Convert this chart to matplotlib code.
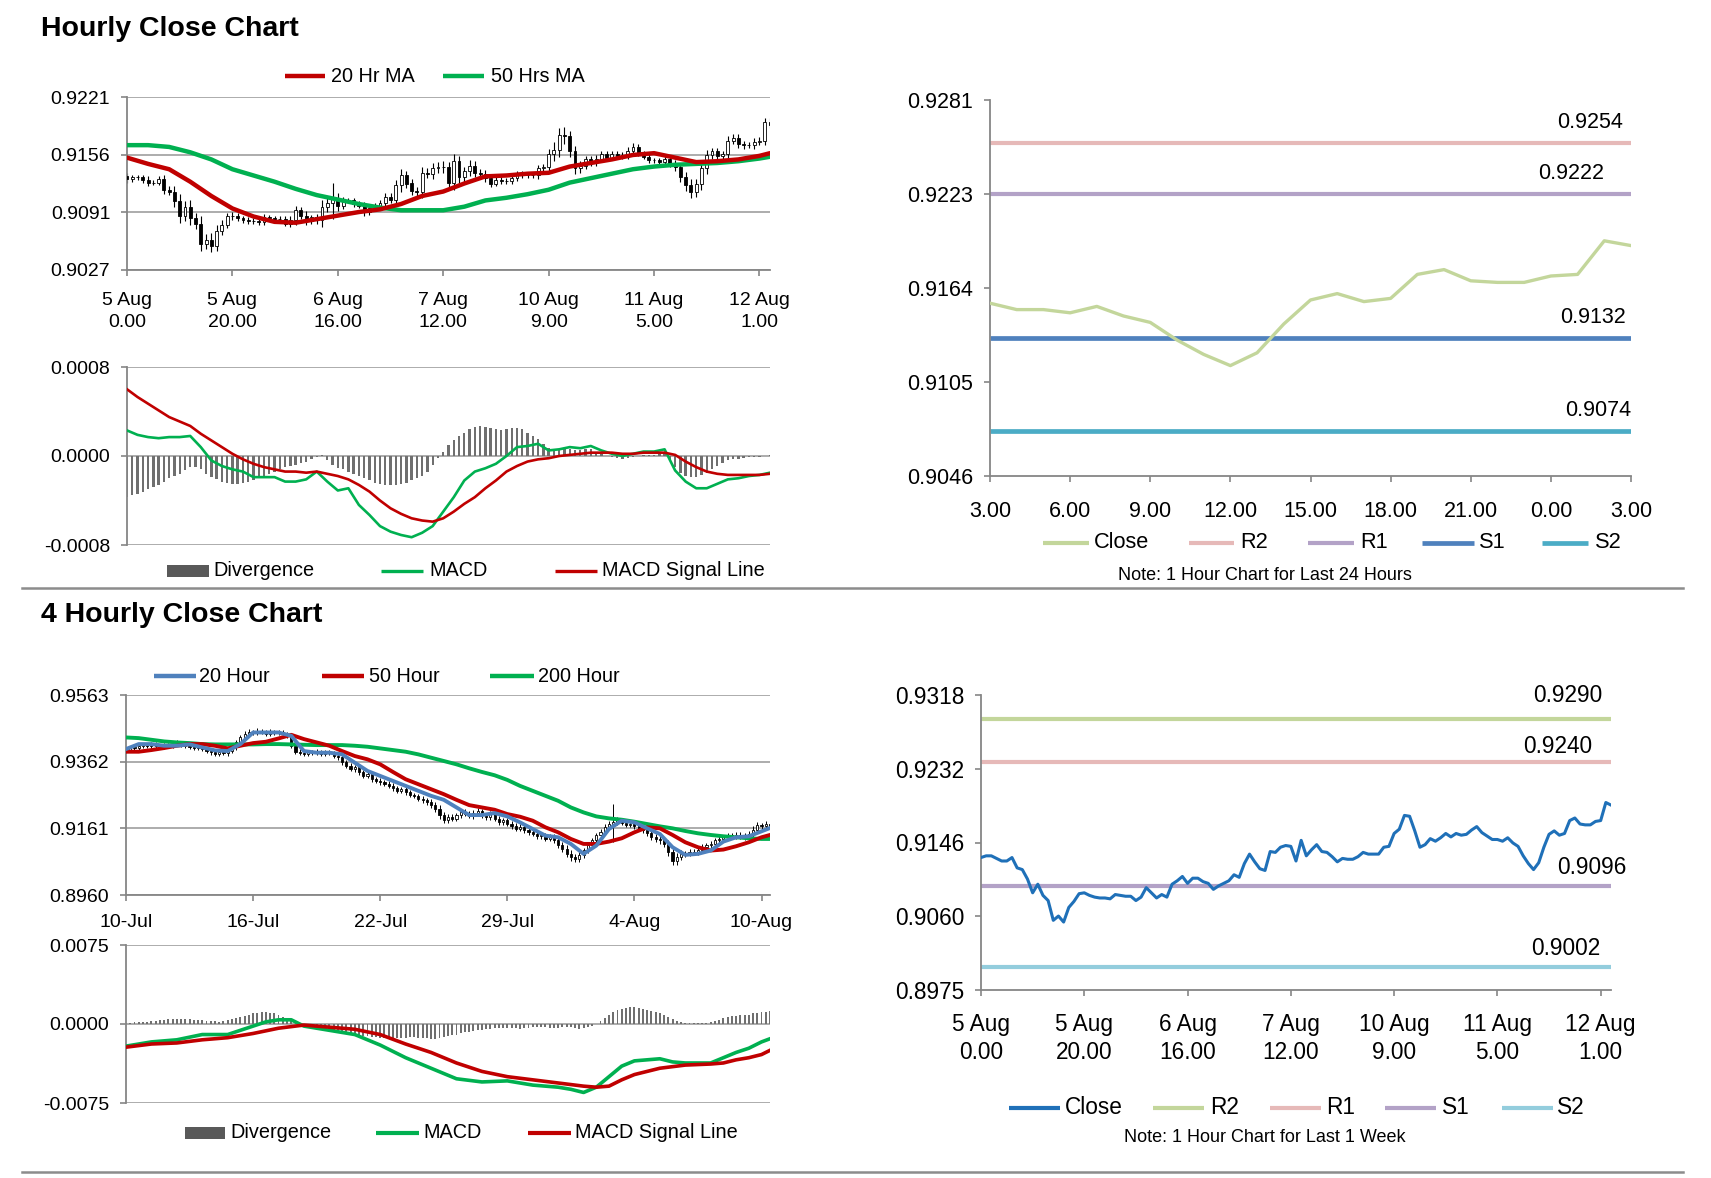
import numpy as np
import matplotlib
matplotlib.use('Agg')
import matplotlib.pyplot as plt
from matplotlib.lines import Line2D
from matplotlib.patches import Rectangle

plt.rcParams['font.family'] = ['Liberation Sans', 'DejaVu Sans']

# ---------------- DATA ----------------
# Hourly closes, 5 Aug 0.00 -> 12 Aug 3.00 (123 hourly bars)
close_1h = [
    0.9129, 0.9131, 0.9131, 0.9128, 0.9125, 0.9125, 0.9129, 0.9117, 0.9115, 0.9104,
    0.9088, 0.9098, 0.9085, 0.9079, 0.9056, 0.9061, 0.9054, 0.9071, 0.9078, 0.9087,
    0.9088, 0.9085, 0.9083, 0.9082, 0.9082, 0.9081, 0.9086, 0.9085, 0.9084, 0.9084,
    0.9079, 0.9083, 0.9094, 0.9088, 0.9082, 0.9086, 0.9083, 0.9098, 0.9102, 0.9107,
    0.9099, 0.9105, 0.9105, 0.9101, 0.9099, 0.9092, 0.9096, 0.9099, 0.9102, 0.9109,
    0.9106, 0.9122, 0.9133, 0.9124, 0.9116, 0.9114, 0.9136, 0.9135, 0.9141, 0.9143,
    0.9142, 0.9125, 0.9149, 0.9131, 0.9138, 0.9144, 0.9136, 0.9135, 0.9130, 0.9124,
    0.9128, 0.9127, 0.9127, 0.9130, 0.9135, 0.9133, 0.9133, 0.9133, 0.9141, 0.9142,
    0.9157, 0.9162, 0.9178, 0.9177, 0.9160, 0.9141, 0.9144, 0.9151, 0.9148, 0.9152,
    0.9157, 0.9153, 0.9157, 0.9155, 0.9156, 0.9161, 0.9165, 0.9158,
    0.9154, 0.9150, 0.9150, 0.9148, 0.9152, 0.9146, 0.9142, 0.9131, 0.9122, 0.9115,
    0.9123, 0.9141, 0.9156, 0.9160, 0.9155, 0.9157, 0.9172, 0.9175, 0.9168, 0.9167,
    0.9167, 0.9171, 0.9172, 0.9193, 0.9190]
first_open_1h = 0.9132
wick_1h_pips = [
    4, 3, 3, 3, 4, 3, 3, 5, 4, 6,
    8, 6, 7, 6, 8, 6, 7, 6, 5, 4,
    4, 3, 3, 3, 3, 3, 4, 3, 3, 3,
    3, 4, 5, 4, 5, 3, 4, 8, 6, 18,
    6, 4, 3, 3, 3, 4, 3, 3, 3, 4,
    4, 6, 7, 5, 5, 4, 6, 5, 6, 5,
    6, 6, 8, 6, 5, 6, 5, 4, 4, 4,
    3, 3, 3, 3, 3, 3, 3, 3, 4, 4,
    6, 8, 8, 9, 6, 6, 5, 4, 4, 4,
    4, 3, 3, 3, 3, 4, 4, 3, 3, 3,
    3, 3, 3, 3, 4, 5, 6, 7, 6, 6,
    6, 4, 4, 4, 5, 4, 4, 4, 3, 4,
    4, 5, 4]
tick_labels_1h = ['5 Aug\n0.00', '5 Aug\n20.00', '6 Aug\n16.00', '7 Aug\n12.00',
                  '10 Aug\n9.00', '11 Aug\n5.00', '12 Aug\n1.00']

# Hourly moving averages (sampled every 4 bars)
ma_idx_1h = list(range(0, 121, 4)) + [122]
ma20_1h = [0.9153, 0.9146, 0.9140, 0.9126, 0.9110, 0.9096, 0.9087, 0.9081, 0.9080, 0.9084,
           0.9088, 0.9092, 0.9095, 0.9101, 0.9110, 0.9115, 0.9124, 0.9132, 0.9133, 0.9135,
           0.9136, 0.9143, 0.9147, 0.9151, 0.9156, 0.9158, 0.9153, 0.9148, 0.9149, 0.9151,
           0.9155, 0.9158]
ma50_1h = [0.9167, 0.9167, 0.9165, 0.9159, 0.9151, 0.9140, 0.9133, 0.9126, 0.9118, 0.9111,
           0.9106, 0.9101, 0.9097, 0.9094, 0.9094, 0.9094, 0.9098, 0.9105, 0.9108, 0.9112,
           0.9117, 0.9125, 0.9130, 0.9135, 0.9140, 0.9143, 0.9145, 0.9146, 0.9147, 0.9149,
           0.9152, 0.9154]

# Hourly MACD (sampled every 2 bars) and divergence (every bar)
macd_idx_1h = list(range(0, 123, 2))
macd_1h = [0.00023, 0.00019, 0.00017, 0.00016, 0.00017, 0.00017, 0.00018, 0.00008, -0.00004, -0.00009,
           -0.00012, -0.00014, -0.00019, -0.00019, -0.00019, -0.00023, -0.00023, -0.00021, -0.00014, -0.00023,
           -0.00031, -0.00029, -0.00044, -0.00053, -0.00063, -0.00068, -0.00071, -0.00073, -0.00069, -0.00063,
           -0.00050, -0.00037, -0.00022, -0.00014, -0.00011, -0.00007, 0.00000, 0.00008, 0.00009, 0.00011,
           0.00005, 0.00006, 0.00008, 0.00007, 0.00009, 0.00005, 0.00002, 0.00000, 0.00002, 0.00004,
           0.00004, 0.00006, -0.00013, -0.00023, -0.00029, -0.00029, -0.00025, -0.00021, -0.00020, -0.00018,
           -0.00017, -0.00015]
signal_1h = [0.00060, 0.00053, 0.00047, 0.00041, 0.00035, 0.00031, 0.00027, 0.00020, 0.00014, 0.00008,
             0.00002, -0.00003, -0.00007, -0.00010, -0.00012, -0.00014, -0.00014, -0.00015, -0.00014, -0.00016,
             -0.00018, -0.00021, -0.00026, -0.00032, -0.00040, -0.00047, -0.00052, -0.00056, -0.00058, -0.00059,
             -0.00056, -0.00050, -0.00043, -0.00037, -0.00029, -0.00022, -0.00014, -0.00009, -0.00005, -0.00003,
             -0.00002, 0.00000, 0.00001, 0.00002, 0.00003, 0.00003, 0.00003, 0.00002, 0.00002, 0.00003,
             0.00003, 0.00003, 0.00001, -0.00005, -0.00010, -0.00014, -0.00016, -0.00017, -0.00017, -0.00017,
             -0.00017, -0.00016]
div_1h = [
    -0.00037, -0.00035, -0.00034, -0.00032, -0.00030, -0.00028, -0.00026, -0.00023, -0.00020, -0.00018,
    -0.00016, -0.00013, -0.00010, -0.00010, -0.00012, -0.00016, -0.00019, -0.00021, -0.00023, -0.00024,
    -0.00025, -0.00025, -0.00024, -0.00023, -0.00022, -0.00020, -0.00018, -0.00016, -0.00014, -0.00012,
    -0.00010, -0.00009, -0.00008, -0.00006, -0.00005, -0.00003, -0.00001, 0.00001, -0.00004, -0.00008,
    -0.00011, -0.00012, -0.00014, -0.00016, -0.00018, -0.00020, -0.00022, -0.00024, -0.00025, -0.00026,
    -0.00026, -0.00026, -0.00025, -0.00024, -0.00022, -0.00020, -0.00018, -0.00014, -0.00008, -0.00002,
    0.00004, 0.00010, 0.00014, 0.00018, 0.00021, 0.00024, 0.00026, 0.00027, 0.00026, 0.00025,
    0.00024, 0.00023, 0.00024, 0.00025, 0.00025, 0.00024, 0.00021, 0.00018, 0.00015, 0.00011,
    0.00007, 0.00006, 0.00005, 0.00006, 0.00006, 0.00005, 0.00005, 0.00006, 0.00006, 0.00004,
    0.00002, 0.00000, -0.00001, -0.00002, -0.00003, -0.00002, -0.00001, 0.00000, 0.00001, 0.00001,
    0.00001, 0.00002, 0.00003, -0.00004, -0.00010, -0.00015, -0.00018, -0.00019, -0.00019, -0.00017,
    -0.00015, -0.00012, -0.00009, -0.00006, -0.00004, -0.00003, -0.00003, -0.00002, -0.00001, -0.00001,
    -0.00001, 0.00000, 0.00001]

# 4-hourly closes, 10 Jul -> 10 Aug (153 bars)
close_4h = [
    0.9398, 0.9405, 0.9402, 0.9410, 0.9412, 0.9408, 0.9415, 0.9410, 0.9406, 0.9412,
    0.9408, 0.9415, 0.9420, 0.9412, 0.9408, 0.9405, 0.9402, 0.9406, 0.9400, 0.9395,
    0.9390, 0.9385, 0.9392, 0.9388, 0.9395, 0.9405, 0.9420, 0.9435, 0.9445, 0.9452,
    0.9448, 0.9455, 0.9450, 0.9445, 0.9452, 0.9448, 0.9450, 0.9445, 0.9440, 0.9410,
    0.9392, 0.9388, 0.9385, 0.9390, 0.9388, 0.9392, 0.9385, 0.9390, 0.9388, 0.9380,
    0.9375, 0.9360, 0.9350, 0.9340, 0.9345, 0.9330, 0.9320, 0.9325, 0.9310, 0.9305,
    0.9300, 0.9295, 0.9290, 0.9282, 0.9275, 0.9280, 0.9270, 0.9262, 0.9258, 0.9250,
    0.9245, 0.9240, 0.9230, 0.9220, 0.9200, 0.9185, 0.9195, 0.9190, 0.9200, 0.9210,
    0.9205, 0.9198, 0.9208, 0.9212, 0.9200, 0.9195, 0.9205, 0.9190, 0.9180, 0.9185,
    0.9175, 0.9168, 0.9160, 0.9165, 0.9155, 0.9150, 0.9145, 0.9138, 0.9140, 0.9130,
    0.9135, 0.9125, 0.9110, 0.9100, 0.9085, 0.9075, 0.9068, 0.9080, 0.9095, 0.9110,
    0.9125, 0.9140, 0.9150, 0.9165, 0.9175, 0.9180, 0.9185, 0.9178, 0.9172, 0.9175,
    0.9168, 0.9160, 0.9155, 0.9148, 0.9135, 0.9130, 0.9125, 0.9115, 0.9090, 0.9062,
    0.9075, 0.9085, 0.9085, 0.9090, 0.9088, 0.9095, 0.9105, 0.9110, 0.9115, 0.9125,
    0.9130, 0.9135, 0.9140, 0.9138, 0.9142, 0.9135, 0.9140, 0.9145, 0.9155, 0.9170,
    0.9168, 0.9175, 0.9165]
first_open_4h = 0.9395
wick_4h_pips = [
    6, 5, 6, 5, 6, 5, 6, 6, 5, 6,
    6, 5, 6, 5, 6, 5, 6, 6, 7, 6,
    7, 6, 6, 7, 8, 7, 8, 6, 8, 7,
    6, 7, 6, 6, 7, 6, 6, 6, 7, 8,
    8, 7, 6, 6, 6, 7, 6, 6, 6, 7,
    7, 8, 8, 7, 8, 7, 8, 7, 8, 7,
    8, 7, 8, 7, 8, 7, 8, 8, 7, 8,
    8, 8, 9, 9, 10, 9, 8, 8, 8, 7,
    8, 7, 8, 9, 8, 8, 8, 7, 8, 8,
    8, 8, 8, 8, 9, 8, 8, 8, 9, 8,
    8, 9, 9, 10, 10, 11, 10, 9, 8, 8,
    8, 8, 9, 8, 9, 55, 9, 8, 8, 8,
    8, 8, 8, 9, 9, 9, 10, 10, 12, 13,
    12, 10, 9, 8, 8, 8, 8, 7, 8, 8,
    8, 7, 8, 8, 8, 7, 8, 8, 14, 9,
    8, 8, 8]
tick_labels_4h = ['10-Jul', '16-Jul', '22-Jul', '29-Jul', '4-Aug', '10-Aug']

ma_idx_4h = list(range(0, 151, 3)) + [152]
ma20_4h = [0.9400, 0.9415, 0.9415, 0.9410, 0.9410, 0.9414, 0.9405, 0.9396, 0.9394, 0.9415,
           0.9450, 0.9450, 0.9450, 0.9440, 0.9394, 0.9389, 0.9389, 0.9384, 0.9359, 0.9334,
           0.9319, 0.9304, 0.9289, 0.9274, 0.9259, 0.9247, 0.9224, 0.9201, 0.9201, 0.9207,
           0.9197, 0.9179, 0.9159, 0.9139, 0.9134, 0.9114, 0.9084, 0.9109, 0.9159, 0.9184,
           0.9179, 0.9161, 0.9144, 0.9104, 0.9081, 0.9084, 0.9094, 0.9121, 0.9134, 0.9137,
           0.9152, 0.9162]
ma50_4h = [0.9392, 0.9392, 0.9397, 0.9403, 0.9410, 0.9415, 0.9415, 0.9410, 0.9402, 0.9410,
           0.9418, 0.9422, 0.9432, 0.9443, 0.9430, 0.9420, 0.9410, 0.9394, 0.9379, 0.9369,
           0.9354, 0.9331, 0.9309, 0.9294, 0.9279, 0.9264, 0.9247, 0.9231, 0.9224, 0.9217,
           0.9204, 0.9196, 0.9184, 0.9164, 0.9149, 0.9129, 0.9114, 0.9114, 0.9121, 0.9131,
           0.9149, 0.9164, 0.9161, 0.9141, 0.9119, 0.9104, 0.9094, 0.9097, 0.9107, 0.9119,
           0.9134, 0.9141]
ma200_4h = [0.9435, 0.9433, 0.9428, 0.9423, 0.9420, 0.9418, 0.9415, 0.9414, 0.9414, 0.9414,
            0.9414, 0.9415, 0.9415, 0.9414, 0.9413, 0.9412, 0.9412, 0.9412, 0.9410, 0.9407,
            0.9402, 0.9397, 0.9392, 0.9384, 0.9374, 0.9364, 0.9354, 0.9342, 0.9331, 0.9321,
            0.9307, 0.9289, 0.9274, 0.9259, 0.9244, 0.9224, 0.9209, 0.9197, 0.9191, 0.9187,
            0.9181, 0.9174, 0.9167, 0.9161, 0.9153, 0.9146, 0.9141, 0.9137, 0.9134, 0.9131,
            0.9129, 0.9129]

macd_idx_4h = [0, 6, 12, 18, 24, 27, 30, 33, 36, 39, 42, 48, 54, 60, 66, 72, 78, 84, 90, 96,
               102, 105, 108, 111, 114, 117, 120, 126, 129, 132, 138, 141, 144, 147, 150, 152]
macd_4h = [-0.0021, -0.0017, -0.0015, -0.0010, -0.0010, -0.0006, -0.0002, 0.0002, 0.0004, 0.0004,
           -0.0002, -0.0006, -0.0010, -0.0020, -0.0032, -0.0042, -0.0052, -0.0055, -0.0054, -0.0058,
           -0.0060, -0.0062, -0.0065, -0.0060, -0.0050, -0.0040, -0.0035, -0.0033, -0.0036, -0.0037,
           -0.0037, -0.0032, -0.0027, -0.0023, -0.0017, -0.0014]
signal_idx_4h = [0, 6, 12, 18, 24, 30, 36, 42, 48, 54, 60, 66, 72, 78, 84, 90, 96, 102, 108, 111,
                 114, 117, 120, 126, 132, 138, 141, 144, 147, 150, 152]
signal_4h = [-0.0022, -0.0019, -0.0018, -0.0015, -0.0013, -0.0009, -0.0004, -0.0001, -0.0003, -0.0005,
             -0.0010, -0.0019, -0.0027, -0.0037, -0.0045, -0.0050, -0.0053, -0.0056, -0.0059, -0.0060,
             -0.0059, -0.0053, -0.0048, -0.0042, -0.0039, -0.0038, -0.0037, -0.0034, -0.0032, -0.0029,
             -0.0025]
div_4h = [
    0.0001, 0.0001, 0.0002, 0.0002, 0.0002, 0.0002, 0.0003,
    0.0003, 0.0004, 0.0004, 0.0005, 0.0005, 0.0005, 0.0005,
    0.0005, 0.0005, 0.0004, 0.0004, 0.0004, 0.0003, 0.0003,
    0.0003, 0.0002, 0.0003, 0.0004, 0.0005, 0.0006, 0.0007,
    0.0008, 0.0009, 0.0010, 0.0010, 0.0011, 0.0011, 0.0010,
    0.0010, 0.0009, 0.0007, 0.0005, 0.0003, 0.0001, -0.0001,
    -0.0002, -0.0003, -0.0003, -0.0004, -0.0004, -0.0005, -0.0006,
    -0.0006, -0.0007, -0.0008, -0.0008, -0.0009, -0.0010, -0.0010,
    -0.0011, -0.0011, -0.0012, -0.0012, -0.0013, -0.0013, -0.0013,
    -0.0013, -0.0013, -0.0013, -0.0013, -0.0012, -0.0012, -0.0013,
    -0.0013, -0.0013, -0.0014, -0.0014, -0.0013, -0.0012, -0.0011,
    -0.0010, -0.0010, -0.0009, -0.0008, -0.0008, -0.0007, -0.0006,
    -0.0006, -0.0005, -0.0005, -0.0004, -0.0004, -0.0004, -0.0004,
    -0.0004, -0.0004, -0.0005, -0.0004, -0.0004, -0.0003, -0.0003,
    -0.0003, -0.0003, -0.0004, -0.0004, -0.0004, -0.0003, -0.0003,
    -0.0003, -0.0004, -0.0005, -0.0004, -0.0003, -0.0002, 0.0000,
    0.0003, 0.0006, 0.0009, 0.0011, 0.0013, 0.0014, 0.0015,
    0.0016, 0.0016, 0.0015, 0.0014, 0.0013, 0.0012, 0.0011,
    0.0010, 0.0009, 0.0007, 0.0005, 0.0003, 0.0002, 0.0001,
    0.0001, 0.0001, 0.0001, 0.0001, 0.0001, 0.0002, 0.0003,
    0.0004, 0.0006, 0.0007, 0.0008, 0.0008, 0.0009, 0.0009,
    0.0009, 0.0010, 0.0010, 0.0011, 0.0011, 0.0012]

# Pivot levels
levels_24h = {'R2': 0.9254, 'R1': 0.9222, 'S1': 0.9132, 'S2': 0.9074}
levels_week = {'R2': 0.9290, 'R1': 0.9240, 'S1': 0.9096, 'S2': 0.9002}
tick_labels_24h = ['3.00', '6.00', '9.00', '12.00', '15.00', '18.00', '21.00', '0.00', '3.00']

ylim_1h = (0.9027, 0.9221); yticklabels_1h = ['0.9027', '0.9091', '0.9156', '0.9221']
ylim_macd1h = (-0.0008, 0.0008); yticklabels_macd1h = ['-0.0008', '0.0000', '0.0008']
ylim_4h = (0.8960, 0.9563); yticklabels_4h = ['0.8960', '0.9161', '0.9362', '0.9563']
ylim_macd4h = (-0.0075, 0.0075); yticklabels_macd4h = ['-0.0075', '0.0000', '0.0075']
ylim_24h = (0.9046, 0.9281); yticklabels_24h = ['0.9046', '0.9105', '0.9164', '0.9223', '0.9281']
ylim_week = (0.8975, 0.9318); yticklabels_week = ['0.8975', '0.9060', '0.9146', '0.9232', '0.9318']

# ---------------- FIGURE ----------------
W, H = 1711, 1178
fig = plt.figure(figsize=(W / 100, H / 100), dpi=100)
fig.patch.set_facecolor('white')

AXC = '#868686'
GRIDC = '#A6A6A6'
RED = '#C00000'
GREEN = '#00B050'
BLUE20 = '#4F81BD'
DIVC = '#6F6F6F'


def fx(x):
    return x / W


def fy(y):
    return 1 - y / H


def px_axes(l, t, r, b):
    return fig.add_axes([l / W, 1 - b / H, (r - l) / W, (b - t) / H])


def style(ax, fs, grid=True, xpad=8, ypad=8):
    for s in ['top', 'right']:
        ax.spines[s].set_visible(False)
    for s in ['left', 'bottom']:
        ax.spines[s].set_color(AXC)
        ax.spines[s].set_linewidth(1.3)
    ax.tick_params(axis='both', colors=AXC, labelcolor='black', labelsize=fs,
                   length=4, width=1.2, direction='out')
    ax.tick_params(axis='x', pad=xpad)
    ax.tick_params(axis='y', pad=ypad)
    if grid:
        ax.yaxis.grid(True, color=GRIDC, lw=1.3)
        ax.set_axisbelow(True)
    ax.set_facecolor('none')


def set_y(ax, lim, labels):
    ax.set_ylim(*lim)
    ax.set_yticks(np.linspace(lim[0], lim[1], len(labels)))
    ax.set_yticklabels(labels)


def candles(ax, close, first_open, wick_pips, width, lw=0.8):
    c = np.asarray(close)
    o = np.r_[first_open, c[:-1]]
    w = np.asarray(wick_pips) * 0.0001
    hi = np.maximum(o, c) + w
    lo = np.minimum(o, c) - w
    x = np.arange(len(c))
    ax.vlines(x, lo, hi, color='black', lw=lw, zorder=2)
    up = c >= o
    ax.bar(x[up], (c - o)[up], bottom=o[up], width=width, facecolor='white',
           edgecolor='black', lw=0.6, zorder=3)
    ax.bar(x[~up], (o - c)[~up], bottom=c[~up], width=width, facecolor='black',
           edgecolor='black', lw=0.6, zorder=3)


def leg_line(x0, x1, tx, y, color, lw, label, fs):
    fig.add_artist(Line2D([fx(x0), fx(x1)], [fy(y), fy(y)], color=color, lw=lw,
                          transform=fig.transFigure, solid_capstyle='butt'))
    fig.text(fx(tx), fy(y), label, ha='left', va='center', fontsize=fs)


def leg_rect(x0, x1, tx, y, color, label, fs):
    fig.add_artist(Rectangle((fx(x0), fy(y + 6)), (x1 - x0) / W, 12 / H, facecolor=color,
                             edgecolor='none', transform=fig.transFigure))
    fig.text(fx(tx), fy(y), label, ha='left', va='center', fontsize=fs)


FS = 14
LEGFS = 14.3

# ---- Titles and separators ----
fig.text(fx(41), fy(29), 'Hourly Close Chart', fontsize=20.5, fontweight='bold', ha='left', va='center')
fig.text(fx(41), fy(615), '4 Hourly Close Chart', fontsize=20.5, fontweight='bold', ha='left', va='center')
for ysep in (588, 1172):
    fig.add_artist(Line2D([fx(22), fx(1683)], [fy(ysep), fy(ysep)], color='#8C8C8C', lw=1.8,
                          transform=fig.transFigure))

# ---- Panel A: hourly candles + MAs ----
axA = px_axes(127, 97, 770, 270)
style(axA, FS, xpad=11.5)
n1 = len(close_1h)
candles(axA, close_1h, first_open_1h, wick_1h_pips, 0.55)
axA.plot(ma_idx_1h, ma50_1h, color=GREEN, lw=3.2, zorder=4, solid_capstyle='round')
axA.plot(ma_idx_1h, ma20_1h, color=RED, lw=3.2, zorder=5, solid_capstyle='round')
axA.set_xlim(0, n1 - 1)
set_y(axA, ylim_1h, yticklabels_1h)
axA.set_xticks(range(0, n1, 20))
axA.set_xticklabels(tick_labels_1h, linespacing=1.45)
leg_line(285, 325, 331, 76, RED, 3.2, '20 Hr MA', LEGFS)
leg_line(443, 484, 491, 76, GREEN, 3.2, '50 Hrs MA', LEGFS)

# ---- Panel B: hourly MACD ----
axB = px_axes(127, 367, 770, 545)
style(axB, FS)
axB.bar(range(len(div_1h)), div_1h, width=0.45, color=DIVC, zorder=2)
axB.plot(macd_idx_1h, macd_1h, color=GREEN, lw=1.9, zorder=3)
axB.plot(macd_idx_1h, signal_1h, color=RED, lw=1.9, zorder=4)
axB.set_xlim(0, n1 - 1)
set_y(axB, ylim_macd1h, yticklabels_macd1h)
axB.set_xticks([])
axB.spines['bottom'].set_visible(False)
leg_rect(167, 209, 213, 571, '#595959', 'Divergence', LEGFS)
leg_line(381, 423, 429, 571, GREEN, 2.4, 'MACD', LEGFS)
leg_line(555, 597, 602, 571, RED, 2.4, 'MACD Signal Line', LEGFS)

# ---- Panel D: 4-hourly candles + MAs ----
axD = px_axes(126, 695, 770, 895)
style(axD, FS, xpad=10)
n4 = len(close_4h)
candles(axD, close_4h, first_open_4h, wick_4h_pips, 0.5, lw=0.7)
axD.plot(ma_idx_4h, ma200_4h, color=GREEN, lw=2.8, zorder=4)
axD.plot(ma_idx_4h, ma50_4h, color=RED, lw=2.8, zorder=5)
axD.plot(ma_idx_4h, ma20_4h, color=BLUE20, lw=2.8, zorder=6)
axD.set_xlim(0, n4 - 1)
set_y(axD, ylim_4h, yticklabels_4h)
axD.set_xticks(range(0, n4, 30))
axD.set_xticklabels(tick_labels_4h)
leg_line(154, 196, 199, 676, BLUE20, 3.2, '20 Hour', LEGFS)
leg_line(322, 364, 369, 676, RED, 3.2, '50 Hour', LEGFS)
leg_line(490, 534, 538, 676, GREEN, 3.2, '200 Hour', LEGFS)

# ---- Panel E: 4-hourly MACD ----
axE = px_axes(126, 945, 770, 1103)
style(axE, FS)
axE.bar(range(len(div_4h)), div_4h, width=0.45, color=DIVC, zorder=2)
axE.plot(macd_idx_4h, macd_4h, color=GREEN, lw=2.6, zorder=3)
axE.plot(signal_idx_4h, signal_4h, color=RED, lw=2.6, zorder=4)
axE.set_xlim(0, n4 - 1)
set_y(axE, ylim_macd4h, yticklabels_macd4h)
axE.set_xticks([])
axE.spines['bottom'].set_visible(False)
leg_rect(185, 225, 230, 1133, '#595959', 'Divergence', LEGFS)
leg_line(376, 419, 423, 1133, GREEN, 3.0, 'MACD', LEGFS)
leg_line(528, 571, 575, 1133, RED, 3.0, 'MACD Signal Line', LEGFS)

# ---- Panel F: last 24 hours with pivots ----
axF = px_axes(990, 100, 1631, 476)
style(axF, 15.5, grid=False, xpad=14, ypad=8)
last24 = close_1h[-25:]
nF = len(last24)
colsF = {'R2': '#E6B9B8', 'R1': '#B3A2C7', 'S1': '#4F81BD', 'S2': '#4BACC6'}
lwF = {'R2': 3.0, 'R1': 3.0, 'S1': 3.4, 'S2': 3.4}
lblposF = {'R2': 23.7, 'R1': 23.0, 'S1': 23.8, 'S2': 24.0}
axF.plot(range(nF), last24, color='#C3D69B', lw=2.4, zorder=3)
for k in ['R2', 'R1', 'S1', 'S2']:
    axF.plot([0, nF - 1], [levels_24h[k], levels_24h[k]], color=colsF[k], lw=lwF[k],
             zorder=2, solid_capstyle='butt')
    axF.annotate(f'{levels_24h[k]:.4f}', xy=(lblposF[k], levels_24h[k]), xytext=(0, 15),
                 textcoords='offset points', ha='right', va='center', fontsize=15.5,
                 annotation_clip=False)
axF.set_xlim(0, nF - 1)
set_y(axF, ylim_24h, yticklabels_24h)
axF.set_xticks(range(0, nF, 3))
axF.set_xticklabels(tick_labels_24h)
leg_line(1043, 1089, 1094, 543, '#C3D69B', 3.0, 'Close', 15.7)
leg_line(1189, 1234, 1240, 543, colsF['R2'], 3.0, 'R2', 15.7)
leg_line(1308, 1354, 1360, 543, colsF['R1'], 3.0, 'R1', 15.7)
leg_line(1422, 1474, 1479, 543, colsF['S1'], 3.4, 'S1', 15.7)
leg_line(1542, 1588, 1595, 543, colsF['S2'], 3.4, 'S2', 15.7)
fig.text(fx(1265), fy(575), 'Note: 1 Hour Chart for Last 24 Hours', ha='center', va='center', fontsize=13)

# ---- Panel G: last week with pivots ----
axG = px_axes(981, 695, 1611, 990)
style(axG, 16.3, grid=False, xpad=12.5, ypad=8)
colsG = {'R2': '#C3D69B', 'R1': '#E6B9B8', 'S1': '#B3A2C7', 'S2': '#93CDDD'}
lblposG = {'R2': 120.4, 'R1': 118.3, 'S1': 125.0, 'S2': 120.0}
lbloffG = {'R2': 17, 'R1': 11, 'S1': 13, 'S2': 13}
for k in ['R2', 'R1', 'S1', 'S2']:
    axG.plot([0, n1 - 1], [levels_week[k], levels_week[k]], color=colsG[k], lw=3.0,
             zorder=2, solid_capstyle='butt')
    axG.annotate(f'{levels_week[k]:.4f}', xy=(lblposG[k], levels_week[k]), xytext=(0, lbloffG[k]),
                 textcoords='offset points', ha='right', va='center', fontsize=16.3,
                 annotation_clip=False)
axG.plot(range(n1), close_1h, color='#1F70B8', lw=2.2, zorder=3)
axG.set_xlim(0, n1 - 1)
set_y(axG, ylim_week, yticklabels_week)
axG.set_xticks(range(0, n1, 20))
axG.set_xticklabels(tick_labels_1h, linespacing=1.3)
leg_line(1009, 1060, 1065, 1108, '#1F70B8', 3.0, 'Close', 16.3)
leg_line(1153, 1204, 1210, 1108, colsG['R2'], 3.0, 'R2', 16.3)
leg_line(1270, 1321, 1326, 1108, colsG['R1'], 3.0, 'R1', 16.3)
leg_line(1385, 1436, 1442, 1108, colsG['S1'], 3.0, 'S1', 16.3)
leg_line(1502, 1553, 1557, 1108, colsG['S2'], 3.0, 'S2', 16.3)
fig.text(fx(1265), fy(1138), 'Note: 1 Hour Chart for Last 1 Week', ha='center', va='center', fontsize=13)

fig.savefig('out.png', dpi=100, facecolor='white')
